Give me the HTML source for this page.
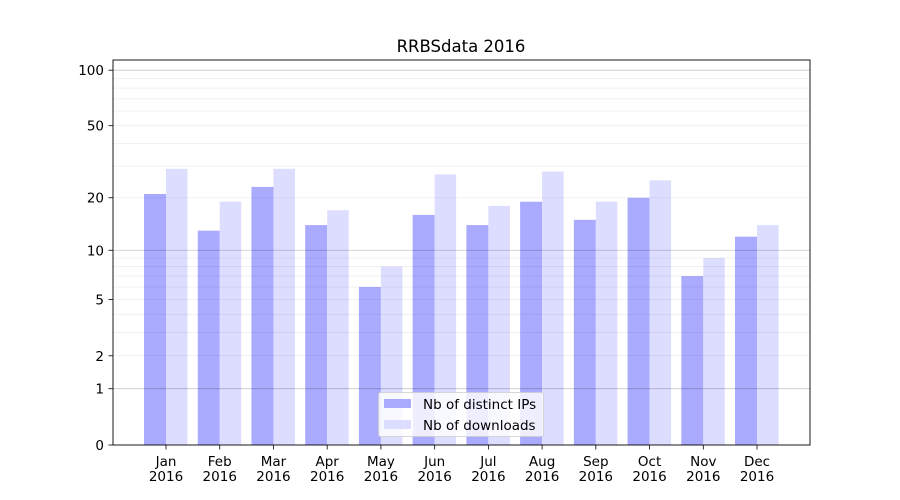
<!DOCTYPE html>
<html><head><meta charset="utf-8"><style>body{margin:0;background:#fff}svg{display:block}</style></head>
<body>
<svg id="s" width="900" height="500" xmlns="http://www.w3.org/2000/svg" font-family="DejaVu Sans, Liberation Sans, sans-serif"></svg>
<script>
const s=document.getElementById('s');
const Y=v=>445-187*Math.log10(1+v);
let h='';
h+='<rect x="113" y="60" width="697" height="385" fill="#fff"/>';
const ip=[21,13,23,14,6,16,14,19,15,20,7,12];
const dl=[29,19,29,17,8,27,18,28,19,25,9,14];
const m=['Jan','Feb','Mar','Apr','May','Jun','Jul','Aug','Sep','Oct','Nov','Dec'];
for(let i=0;i<12;i++){
 const c=166+i*53.73;
 h+=`<rect x="${c-22}" y="${Y(ip[i])}" width="22" height="${445-Y(ip[i])}" fill="#aaaaff"/>`;
 h+=`<rect x="${c}" y="${Y(dl[i])}" width="21.5" height="${445-Y(dl[i])}" fill="#ddddff"/>`;
 h+=`<line x1="${c}" x2="${c}" y1="445" y2="449.5" stroke="#000" stroke-width="0.8"/>`;
 h+=`<text x="${c}" y="466" font-size="13.5" text-anchor="middle">${m[i]}</text><text x="${c}" y="481" font-size="13.5" text-anchor="middle">2016</text>`;
}
const minors=[2,3,4,5,6,7,8,9,20,30,40,50,60,70,80,90];
for(const v of minors){h+=`<line x1="113" x2="810" y1="${Y(v)}" y2="${Y(v)}" stroke="#000" stroke-opacity="0.07" stroke-width="0.8"/>`;}
for(const v of [1,10,100]){h+=`<line x1="113" x2="810" y1="${Y(v)}" y2="${Y(v)}" stroke="#000" stroke-opacity="0.22" stroke-width="0.8"/>`;}
for(const v of [0,1,2,5,10,20,50,100]){const y=Y(v);
 h+=`<line x1="108.5" x2="113" y1="${y}" y2="${y}" stroke="#000" stroke-width="0.8"/>`;
 h+=`<text x="104" y="${y+5}" font-size="13.5" text-anchor="end">${v}</text>`;}
h+='<rect x="113" y="60" width="697" height="385" fill="none" stroke="#000" stroke-width="0.9"/>';
h+='<text x="461" y="52" font-size="16.5" text-anchor="middle">RRBSdata 2016</text>';
h+='<rect x="378.5" y="392.5" width="165" height="44" rx="2" fill="#fff" fill-opacity="0.8" stroke="#ccc" stroke-width="0.8"/>';
h+='<rect x="384" y="399" width="27" height="9" fill="#aaaaff"/><rect x="384" y="420" width="27" height="9" fill="#ddddff"/>';
h+='<text x="423" y="409" font-size="13.5">Nb of distinct IPs</text><text x="423" y="430" font-size="13.5">Nb of downloads</text>';
s.innerHTML=h;
</script>
</body></html>
